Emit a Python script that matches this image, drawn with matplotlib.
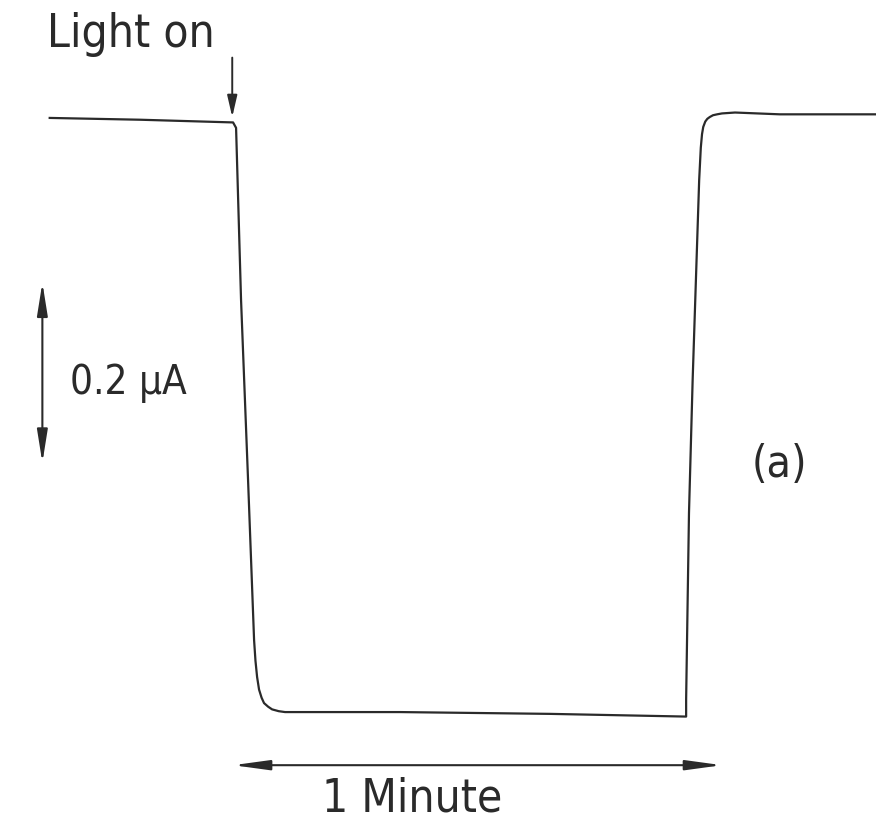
import matplotlib
matplotlib.use("Agg")
import matplotlib.pyplot as plt

# =============================================================
# DATOS (tiempo en s, corriente en uA, relativa al nivel con luz)
# =============================================================
time_s = [-22.5, -11.4, 0.0, 0.37, 0.98, 1.84, 2.58, 2.75, 2.95, 3.19, 3.50,
          3.80, 4.30, 4.79, 5.60, 6.38, 20.5, 38.9, 55.6, 55.6, 55.95, 56.4,
          57.2, 57.4, 57.55, 57.7, 57.95, 58.2, 58.5, 58.9, 59.4, 60.0, 61.6,
          67.1, 78.9]
current_uA = [0.663, 0.661, 0.658, 0.652, 0.461, 0.261, 0.083, 0.060, 0.042,
              0.028, 0.019, 0.013, 0.009, 0.006, 0.004, 0.003, 0.003, 0.001,
              -0.002, 0.017, 0.224, 0.372, 0.594, 0.630, 0.645, 0.653, 0.659,
              0.662, 0.664, 0.666, 0.667, 0.668, 0.669, 0.667, 0.667]

light_on_s = 0.0
scale_time_s = 60.0      # barra de 1 minuto
scale_current_uA = 0.2   # barra de 0.2 uA

label_light = "Light on"
label_current = "0.2 \u03bcA"
label_time = "1 Minute"
label_panel = "(a)"

# =============================================================
# FIGURA
# =============================================================
ink = "#2a2a2a"
font = dict(family=["DejaVu Sans"], fontstretch="condensed",
            fontweight="light", color=ink)

fig = plt.figure(figsize=(8.76, 8.21), dpi=100)
ax = fig.add_axes([0, 0, 1, 1])
ax.set_xlim(-28.6, 78.9)
ax.set_ylim(-0.118, 0.794)
ax.axis("off")

ax.plot(time_s, current_uA, color=ink, lw=1.6, solid_joinstyle="round")

# Flecha "Light on"
ax.annotate("", xy=(light_on_s - 0.1, 0.664), xytext=(light_on_s - 0.1, 0.73),
            arrowprops=dict(arrowstyle="-|>,head_length=1.3,head_width=0.3",
                            color=ink, lw=1.4, shrinkA=0, shrinkB=0))
ax.text(-12.6, 0.756, label_light, ha="center", va="center", fontsize=33, **font)

# Barra de escala de corriente
ax.annotate("", xy=(-23.4, 0.28 + scale_current_uA), xytext=(-23.4, 0.28),
            arrowprops=dict(arrowstyle="<|-|>,head_length=2.0,head_width=0.32",
                            color=ink, lw=1.5, shrinkA=0, shrinkB=0))
ax.text(-20.0, 0.369, label_current, ha="left", va="center", fontsize=29, **font)

# Barra de escala de tiempo
ax.annotate("", xy=(light_on_s + scale_time_s, -0.056), xytext=(light_on_s, -0.056),
            arrowprops=dict(arrowstyle="<|-|>,head_length=2.2,head_width=0.3",
                            color=ink, lw=1.5, shrinkA=0, shrinkB=0))
ax.text(22.0, -0.094, label_time, ha="center", va="center", fontsize=33, **font)

ax.text(67.1, 0.278, label_panel, ha="center", va="center", fontsize=32, **font)

fig.savefig("out.png", dpi=100, facecolor="white")
